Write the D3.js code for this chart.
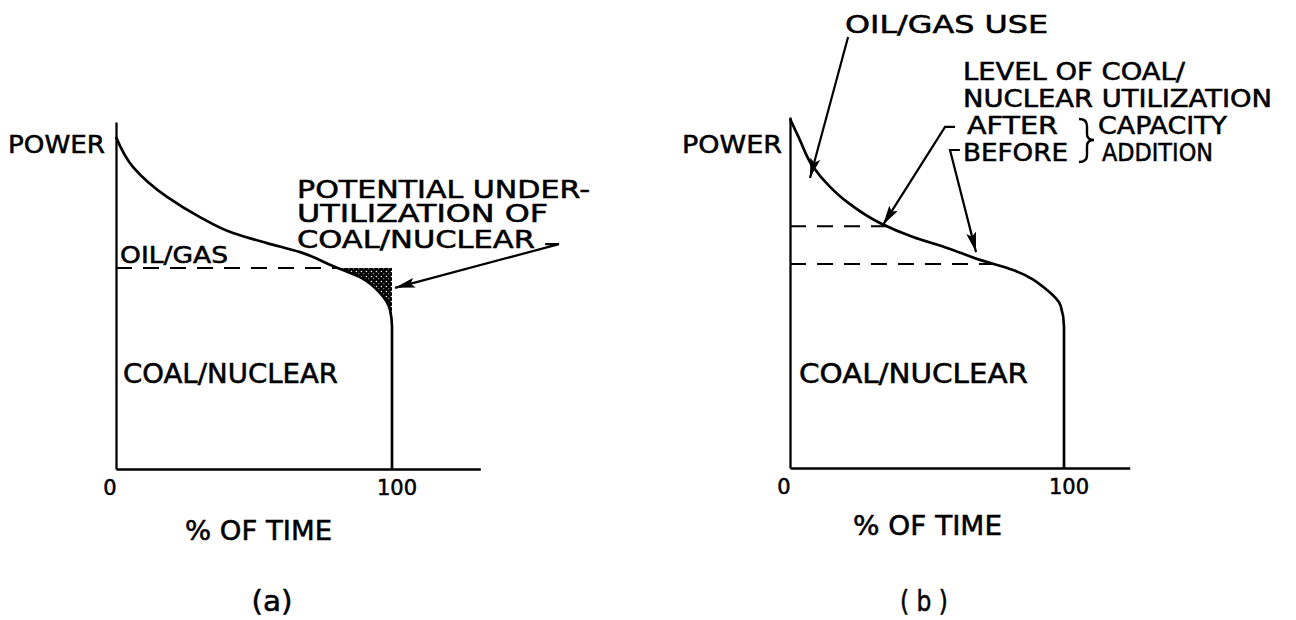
<!DOCTYPE html>
<html><head><meta charset="utf-8">
<script src="https://cdn.jsdelivr.net/npm/d3@7"></script>
<style>body{margin:0;background:#fff}svg{display:block}text{font-family:"DejaVu Sans",sans-serif;fill:#000;stroke:#000;stroke-width:0.55px}</style>
</head><body><svg id="c" width="1296" height="620"></svg>
<script>
// ---- data ----
const timeA  = [0, 6.2, 18.5, 30.4, 42.4, 54.7, 66.7, 78.6, 88.4, 95.7, 99.3, 100, 100, 100];
const powerA = [95.7, 87.0, 78.4, 72.6, 68.0, 65.1, 62.5, 58.5, 55.3, 50.7, 45.8, 40.9, 37, 0];
const levelA = 57.9;
const timeB  = [0, 3.3, 8.4, 14.6, 20.8, 32.8, 44.9, 57.3, 69.3, 81.4, 93.8, 98.8, 100, 100, 100];
const powerB = [99.5, 94.0, 85.8, 80.1, 75.8, 69.8, 65.8, 62.7, 59.3, 56.4, 50.7, 46.2, 40.2, 36.5, 0];
const levelAfter = 68.9, levelBefore = 58.1;
const tickValues = [0, 100];
const tickLabels = ["0", "100"];

const svg = d3.select("#c");
const defs = svg.append("defs");
const pat = defs.append("pattern").attr("id","speckle").attr("width",5).attr("height",5).attr("patternUnits","userSpaceOnUse");
pat.append("rect").attr("width",5).attr("height",5).attr("fill","#000");
pat.append("circle").attr("cx",1.4).attr("cy",1.5).attr("r",0.8).attr("fill","#fff");
pat.append("circle").attr("cx",3.8).attr("cy",3.7).attr("r",0.55).attr("fill","#fff");
function marker(id, len, wid){
  defs.append("marker").attr("id",id).attr("viewBox",`0 0 ${len} ${wid}`)
    .attr("refX",len).attr("refY",wid/2).attr("markerWidth",len).attr("markerHeight",wid)
    .attr("markerUnits","userSpaceOnUse").attr("orient","auto")
    .append("path").attr("d",`M0,0L${len},${wid/2}L0,${wid}L${len*0.2},${wid/2}Z`).attr("fill","#000");
}
marker("ah", 20, 10);

function txt(g, s, x, y, w, size, anchor){
  const t = g.append("text").attr("x",x).attr("y",y).attr("font-size",size).text(s);
  if (w) t.attr("textLength",w).attr("lengthAdjust","spacingAndGlyphs");
  if (anchor) t.attr("text-anchor",anchor);
  return t;
}

function panel(cfg){
  const g = svg.append("g");
  const x = d3.scaleLinear([0, 100], cfg.xr);
  const y = d3.scaleLinear([0, 100], cfg.yr);
  const xAxis = d3.scaleLinear([0, cfg.xmax], [cfg.xr[0], x(cfg.xmax)]);
  g.append("g").attr("transform",`translate(0,${cfg.yr[0]})`)
    .call(d3.axisBottom(xAxis).tickValues([]).tickSizeOuter(0))
    .select(".domain").attr("stroke-width",2.3);
  g.append("g").attr("transform",`translate(${cfg.xr[0]},0)`)
    .call(d3.axisLeft(y).tickValues([]).tickSizeOuter(0))
    .select(".domain").attr("stroke-width",2.3);
  tickValues.forEach((v,i)=>{
    txt(g, tickLabels[i], x(v) + (v===0 ? -6 : 5), cfg.yr[0]+26, null, 21, "middle");
  });
  const pts = cfg.time.map((t,i)=>[t, cfg.power[i]]);
  const line = d3.line().x(d=>x(d[0])).y(d=>y(d[1])).curve(d3.curveMonotoneY);
  function cross(level){
    for (let i=0;i<pts.length-1;i++){
      const a=pts[i], b=pts[i+1];
      if (a[1]>=level && b[1]<level) return a[0] + (a[1]-level)/(a[1]-b[1])*(b[0]-a[0]);
    }
  }
  if (cfg.shade !== undefined){
    const lv = cfg.shade, ti = cross(lv);
    const sub = [[ti, lv]].concat(pts.filter(p=>p[0]>ti && p[1]<lv && p[1]>=40));
    g.append("path").attr("d", line(sub) + `L${x(100)},${y(lv)}Z`).attr("fill","url(#speckle)");
  }
  cfg.levels.forEach(lv=>{
    const ti = cross(lv);
    g.append("line").attr("x1",x(0)).attr("x2",x(ti)).attr("y1",y(lv)).attr("y2",y(lv))
      .attr("stroke","#000").attr("stroke-width",2).attr("stroke-dasharray","16,11");
  });
  g.append("path").attr("d", line(pts)).attr("fill","none").attr("stroke","#000").attr("stroke-width",2.7);
  cfg.arrows.forEach(a=>{
    const p = a.map(d=>[x(d[0]), y(d[1])]);
    g.append("path").attr("d", "M"+p.join("L")).attr("fill","none").attr("stroke","#000")
      .attr("stroke-width",2.2).attr("marker-end","url(#ah)");
  });
  return {g, x, y};
}

const A = panel({xr:[116,392], yr:[469,122], xmax:132, time:timeA, power:powerA,
  shade: levelA, levels:[levelA],
  arrows:[[[155.5,64.8],[160.5,64.8],[101.1,52.2]]]});
txt(A.g, "POWER", 8, 153, 97, 25);
txt(A.g, "OIL/GAS", 120, 263, 108, 23);
txt(A.g, "COAL/NUCLEAR", 123, 383, 215, 27);
txt(A.g, "POTENTIAL UNDER-", 297, 198, 293, 25);
txt(A.g, "UTILIZATION OF", 297, 222, 251, 25);
txt(A.g, "COAL/NUCLEAR", 297, 248, 238, 25);
txt(A.g, "% OF TIME", 185, 540, 147, 27);
txt(A.g, "(a)", 272, 611, 41, 29, "middle");

const B = panel({xr:[790,1064], yr:[468,117], xmax:124, time:timeB, power:powerB,
  levels:[levelAfter, levelBefore],
  arrows:[
    [[21.2,122.8],[7.3,82.6]],
    [[60.2,97.2],[56.6,97.2],[33.9,69.2]],
    [[62.0,90.6],[58.4,90.6],[67.9,61.5]]
  ]});
txt(B.g, "POWER", 682, 153, 100, 25);
txt(B.g, "OIL/GAS USE", 845, 33, 203, 25);
txt(B.g, "LEVEL OF COAL/", 963, 80, 222, 24);
txt(B.g, "NUCLEAR UTILIZATION", 963, 107, 309, 24);
txt(B.g, "AFTER", 967, 134, 91, 25);
txt(B.g, "BEFORE", 963, 161, 105, 25);
txt(B.g, "CAPACITY", 1098, 134, 129, 25);
txt(B.g, "ADDITION", 1102, 161, 111, 25);
B.g.append("path").attr("d","M1079,119Q1087,119 1087,126L1087,134Q1087,140 1094,140Q1087,140 1087,146L1087,155Q1087,162 1079,162")
  .attr("fill","none").attr("stroke","#000").attr("stroke-width",2.4);
txt(B.g, "COAL/NUCLEAR", 799, 383, 229, 27);
txt(B.g, "% OF TIME", 853, 535, 149, 27);
txt(B.g, "( b )", 924, 611, 48, 29, "middle");
</script></body></html>
